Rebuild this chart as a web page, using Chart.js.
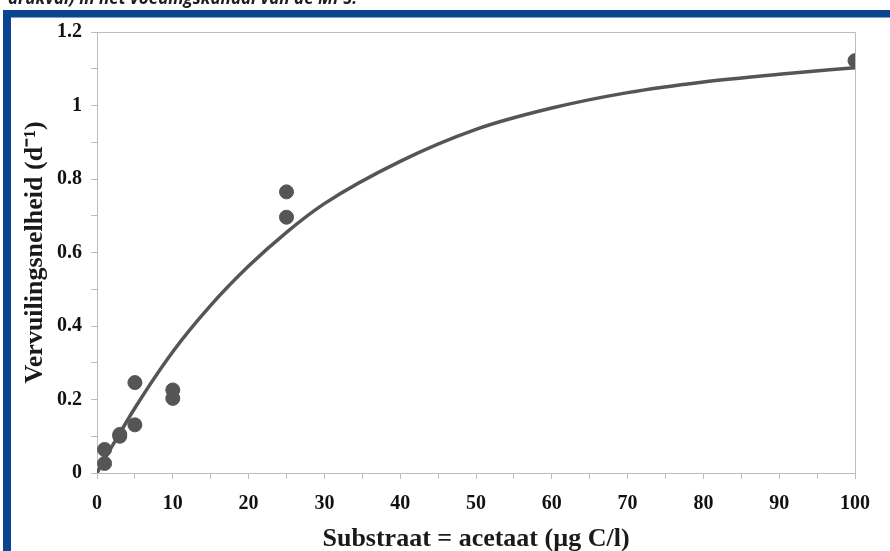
<!DOCTYPE html>
<html>
<head>
<meta charset="utf-8">
<script src="https://cdn.jsdelivr.net/npm/chart.js@4"></script>
<style>
  body { margin: 0; background: #fff; }
  #wrap { position: relative; width: 890px; height: 551px; overflow: hidden; }
</style>
</head>
<body>
<div id="wrap"><canvas id="chart" width="890" height="551"></canvas></div>
<script>
// fitted curve
const curveS = [0, 1, 3, 5, 10, 15, 20, 25, 30, 40, 50, 60, 70, 80, 90, 100];
const curveRate = [0, 0.038, 0.108, 0.177, 0.33, 0.456, 0.563, 0.655, 0.733, 0.848, 0.935, 0.993, 1.035, 1.064, 1.085, 1.103];

// measured points
const measS = [1, 1, 3, 3, 5, 5, 10, 10, 25, 25, 100];
const measRate = [0.064, 0.026, 0.105, 0.1, 0.246, 0.131, 0.226, 0.203, 0.765, 0.696, 1.122];

const caption = "drukval) in het voedingskanaal van de MPS.";
const xTitle = "Substraat = acetaat (µg C/l)";
const yTitle = "Vervuilingsnelheid (d⁻¹)";

const ink = "#555555";
const axisGray = "#bdbdbd";
const blue = "#0b4592";
const serif = "'Liberation Serif', 'Times New Roman', serif";

const frame = {
    id: "frame",
    beforeDraw(chart) {
        const c = chart.ctx;
        c.save();
        c.fillStyle = "#fff";
        c.fillRect(0, 0, chart.width, chart.height);
        // caption cut at the top
        c.fillStyle = "#1e1e1e";
        c.font = "italic bold 17px 'Open Sans'";
        c.textBaseline = "alphabetic";
        c.fillText(caption, 8, 4);
        // blue frame
        c.fillStyle = blue;
        c.fillRect(3, 10, chart.width - 3, 7);
        c.fillRect(3, 10, 8, chart.height - 10);
        c.fillStyle = "#7f9ccc";
        c.fillRect(11, 17, chart.width - 11, 1);
        c.restore();
    },
    afterDatasetsDraw(chart) {
        const a = chart.chartArea;
        const c = chart.ctx;
        c.save();
        c.strokeStyle = axisGray;
        c.lineWidth = 1;
        c.beginPath();
        c.moveTo(a.left, a.top + 0.5);
        c.lineTo(a.right + 0.5, a.top + 0.5);
        c.lineTo(a.right + 0.5, a.bottom);
        c.stroke();
        c.restore();
    },
};

new Chart(document.getElementById("chart"), {
    type: "scatter",
    data: {
        datasets: [
            {
                type: "line",
                data: curveS.map((s, i) => ({ x: s, y: curveRate[i] })),
                borderColor: ink,
                borderWidth: 3.5,
                pointRadius: 0,
                cubicInterpolationMode: "monotone",
                fill: false,
                order: 2,
            },
            {
                data: measS.map((s, i) => ({ x: s, y: measRate[i] })),
                backgroundColor: ink,
                borderColor: ink,
                pointRadius: 7,
                order: 1,
            },
        ],
    },
    options: {
        responsive: false,
        animation: false,
        layout: { padding: { left: 11, top: 32, right: 35, bottom: 0 } },
        plugins: {
            legend: { display: false },
            tooltip: { enabled: false },
        },
        scales: {
            x: {
                type: "linear",
                min: 0,
                max: 100,
                afterFit: (s) => { s.height = 78; },
                border: { display: true, color: axisGray },
                grid: { drawOnChartArea: false, tickLength: 6, color: axisGray },
                ticks: {
                    stepSize: 5,
                    padding: 13,
                    color: "#111",
                    font: { family: serif, size: 20, weight: "bold" },
                    callback: (v) => (v % 10 === 0 ? String(v) : ""),
                },
                title: {
                    display: true,
                    text: xTitle,
                    color: "#1a1a1a",
                    font: { family: serif, size: 26, weight: "bold", lineHeight: 0.9 },
                    padding: { top: 0, bottom: 0 },
                },
            },
            y: {
                min: 0,
                max: 1.2,
                afterFit: (s) => { s.width = 86; },
                border: { display: true, color: axisGray },
                grid: { drawOnChartArea: false, tickLength: 6, color: axisGray },
                ticks: {
                    stepSize: 0.1,
                    padding: 9,
                    color: "#111",
                    font: { family: serif, size: 20, weight: "bold" },
                    callback: (v) => (Math.round(v * 10) % 2 === 0 ? String(+v.toFixed(1)) : ""),
                },
                title: {
                    display: true,
                    text: yTitle,
                    color: "#1a1a1a",
                    font: { family: serif, size: 26, weight: "bold", lineHeight: 1.2 },
                    padding: { top: 9, bottom: 0 },
                },
            },
        },
    },
    plugins: [frame],
});
</script>
</body>
</html>
